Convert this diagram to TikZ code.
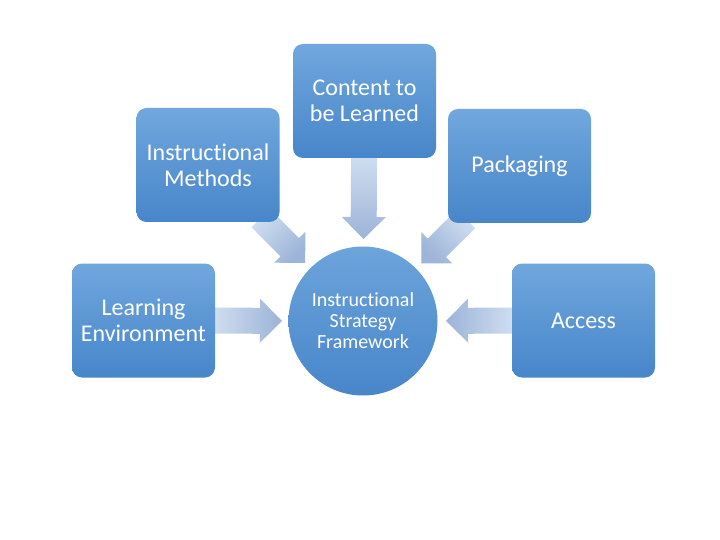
\documentclass[tikz,border=0pt]{standalone}
\usepackage{fontspec}
\setmainfont{Carlito}[Ligatures={NoCommon}]
\usetikzlibrary{calc}
\pgfdeclarelayer{bg}
\pgfsetlayers{bg,main}
\definecolor{boxtop}{HTML}{70A7DD}
\definecolor{boxbot}{HTML}{4786CA}
\definecolor{hubtop}{HTML}{6CA4DB}
\definecolor{hubbot}{HTML}{4886CA}
\definecolor{arrtail}{HTML}{D0DEF0}
\definecolor{arrhead}{HTML}{9CB4D8}
\tikzset{
  boxnode/.style={rounded corners=10pt, minimum width=143pt, minimum height=114pt,
    inner sep=0pt, top color=boxtop, bottom color=boxbot, text=white, align=center,
    font=\fontsize{24}{26}\selectfont},
  hubnode/.style={circle, minimum size=149pt, inner sep=0pt, top color=hubtop,
    bottom color=hubbot, text=white, align=center, font=\fontsize{20}{21}\selectfont},
  arrowfill/.style={draw=none, top color=arrtail, bottom color=arrhead}
}
% #1 start coordinate, #2 tip coordinate, #3 shading angle
\newcommand{\blockarrow}[3]{%
  \coordinate (hb) at ($(#2)!22pt!(#1)$);
  \path[arrowfill, shading angle=#3]
    ($(#1)!13pt!90:(#2)$) -- ($(hb)!13pt!90:(#2)$) -- ($(hb)!22pt!90:(#2)$) -- (#2)
    -- ($(hb)!22pt!-90:(#2)$) -- ($(hb)!13pt!-90:(#2)$) -- ($(#1)!13pt!-90:(#2)$) -- cycle;
}
\begin{document}
\begin{tikzpicture}[x=1pt, y=-1pt]
  \useasboundingbox (0,0) rectangle (720,540);
  \node[hubnode] (fw) at (363,321) {Instructional\\Strategy\\Framework};
  \node[boxnode] (ci) at (364.5,101) {Content to\\be Learned};
  \node[boxnode] (im) at (208,165) {Instructional\\Methods};
  \node[boxnode] (pk) at (519.5,166) {Packaging};
  \node[boxnode] (le) at (143.5,320.5) {Learning\\Environment};
  \node[boxnode] (ac) at (583.5,320.5) {Access};
  \begin{pgfonlayer}{bg}
    \fill[white] (0,0) rectangle (720,540);
    \coordinate (s1) at ($(fw)!166pt!(ci)$);
    \coordinate (t1) at ($(fw)!82pt!(ci)$);
    \coordinate (s2) at ($(fw)!145pt!(im)$);
    \coordinate (t2) at ($(fw)!82pt!(im)$);
    \coordinate (s3) at ($(fw)!145pt!(pk)$);
    \coordinate (t3) at ($(fw)!82pt!(pk)$);
    \coordinate (s4) at ($(fw)!151pt!(le)$);
    \coordinate (t4) at ($(fw)!81pt!(le)$);
    \coordinate (s5) at ($(fw)!151pt!(ac)$);
    \coordinate (t5) at ($(fw)!83pt!(ac)$);
    \blockarrow{s1}{t1}{0}
    \blockarrow{s2}{t2}{45}
    \blockarrow{s3}{t3}{-45}
    \blockarrow{s4}{t4}{90}
    \blockarrow{s5}{t5}{270}
  \end{pgfonlayer}
\end{tikzpicture}
\end{document}
